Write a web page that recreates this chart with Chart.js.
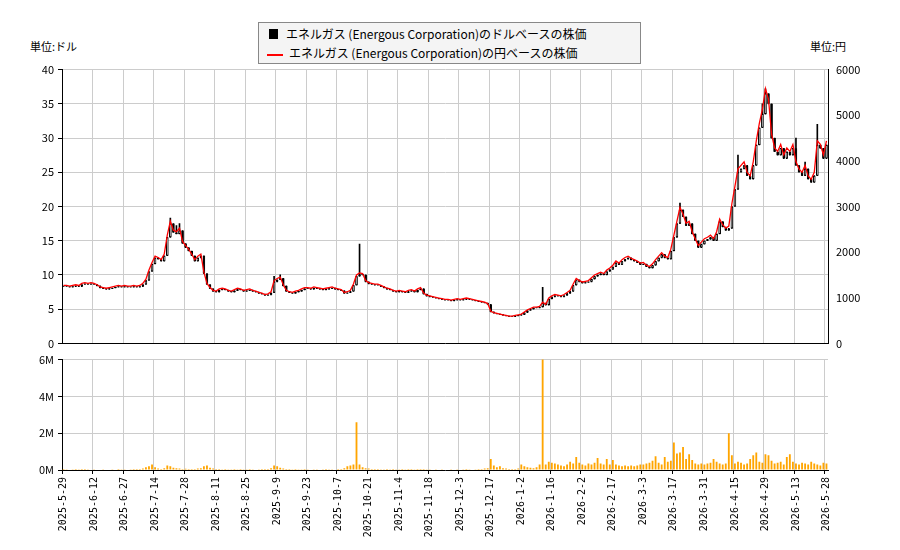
<!DOCTYPE html>
<html><head><meta charset="utf-8">
<script src="https://cdn.jsdelivr.net/npm/chart.js@4"></script>
<style>
body{margin:0;width:900px;height:550px;background:#fff;position:relative;font-family:"Noto Sans CJK JP","DejaVu Sans",sans-serif;overflow:hidden}
canvas{position:absolute;left:0}
.t{position:absolute;font-size:11px;color:#000}
#leg{position:absolute;left:258px;top:22px;width:381px;height:40px;border:1px solid #888;background:#f4f4f4;font-size:12px}
#leg div{position:absolute;left:8px;white-space:nowrap}
</style></head><body>
<div class="t" style="left:30px;top:38px">単位:ドル</div>
<div class="t" style="left:810px;top:38px">単位:円</div>
<div id="leg">
<div style="top:2px"><span style="display:inline-block;width:9px;height:10px;background:#000;margin:0 8px 0 2px"></span>エネルガス (Energous Corporation)のドルベースの株価</div>
<div style="top:21px"><span style="display:inline-block;width:16px;height:2px;background:#f00;vertical-align:middle;margin-right:6px"></span>エネルガス (Energous Corporation)の円ベースの株価</div>
</div>
<canvas id="c2" style="top:349px" width="900" height="201"></canvas>
<canvas id="c1" style="top:59px" width="900" height="295"></canvas>
<script>
const closes=[8.3,8.3,8.2,8.3,8.4,8.3,8.6,8.7,8.6,8.7,
8.6,8.4,8.1,8.0,7.9,8.0,8.1,8.2,8.3,8.2,
8.3,8.2,8.2,8.3,8.2,8.3,8.6,9.2,10.5,11.6,
12.5,12.3,12.0,12.8,15.5,17.5,16.2,16.0,16.5,14.6,
14.0,13.5,12.8,12.0,12.5,12.8,10.2,8.6,8.0,7.6,
7.5,7.8,7.9,7.8,7.6,7.5,7.7,7.9,7.8,7.6,
7.7,7.8,7.6,7.5,7.3,7.2,7.0,7.1,7.4,9.0,
9.3,9.5,8.4,7.6,7.4,7.3,7.5,7.6,7.8,8.0,
8.0,7.9,8.1,8.0,7.9,7.8,7.9,8.0,8.1,7.9,
7.8,7.7,7.3,7.4,7.6,8.5,9.8,10.1,10.0,9.0,
8.7,8.6,8.5,8.5,8.3,8.1,7.9,7.8,7.6,7.5,
7.6,7.5,7.4,7.6,7.7,7.5,7.8,8.0,7.2,6.9,
6.8,6.7,6.6,6.5,6.4,6.3,6.3,6.2,6.3,6.4,
6.3,6.4,6.5,6.4,6.3,6.2,6.1,6.0,5.9,5.7,
4.6,4.4,4.3,4.2,4.1,4.0,3.9,3.9,4.0,4.1,
4.2,4.5,4.8,5.0,5.2,5.2,5.3,5.9,5.6,6.5,
6.8,7.0,6.9,6.8,7.0,7.3,7.6,8.5,9.3,9.0,
8.8,8.9,9.0,9.4,9.8,10.0,10.2,10.0,10.5,10.8,
11.2,11.8,11.5,12.0,12.3,12.5,12.2,12.0,11.8,11.5,
11.6,11.2,11.0,11.4,12.0,12.5,13.0,12.5,12.3,13.5,
15.5,17.5,19.5,18.5,17.2,17.5,16.0,15.0,14.0,14.5,
15.0,15.2,15.5,15.0,16.0,17.8,17.0,16.5,16.8,20.0,
22.5,25.0,25.5,26.0,24.5,24.0,26.0,29.0,31.5,33.5,
36.5,35.0,30.0,28.0,27.5,28.5,27.0,28.0,27.5,28.5,
26.0,25.0,24.5,25.5,24.0,23.5,24.5,29.0,28.5,27.0,29.0];
const spikes={35:18.3,37:17.2,38:17.5,69:9.8,71:10.0,97:14.5,157:8.2,202:20.5,221:27.5,229:35,230:37.2,233:30,240:30,243:26.5,245:21.5,247:32};
const volumesM=[.05,.04,.03,.04,.05,.04,.06,.05,.04,.03,
.04,.03,.03,.04,.03,.03,.04,.03,.05,.04,
.04,.03,.04,.05,.06,.05,.08,.15,.2,.3,
.15,.08,.06,.1,.25,.2,.12,.1,.08,.06,
.07,.05,.05,.06,.08,.1,.2,.25,.12,.08,
.06,.05,.04,.05,.04,.04,.05,.04,.05,.04,
.04,.05,.04,.03,.04,.05,.06,.05,.1,.25,
.2,.12,.08,.06,.05,.04,.05,.04,.04,.05,
.04,.03,.04,.04,.03,.04,.05,.04,.04,.03,
.05,.06,.1,.2,.25,.3,2.6,.3,.15,.1,
.08,.06,.05,.05,.04,.04,.05,.04,.05,.04,
.04,.05,.04,.06,.05,.04,.06,.05,.05,.04,
.04,.03,.04,.03,.04,.03,.03,.04,.03,.04,
.03,.04,.05,.04,.03,.04,.05,.06,.08,.1,
.6,.25,.15,.2,.1,.08,.06,.05,.06,.08,
.3,.2,.15,.12,.1,.15,.3,6.5,.3,.45,
.4,.35,.3,.25,.2,.3,.45,.35,.7,.4,
.3,.25,.35,.3,.4,.65,.35,.3,.6,.3,
.55,.3,.25,.2,.25,.2,.25,.2,.25,.3,
.3,.35,.4,.5,.75,.4,.3,.7,.45,.5,
1.5,.9,.95,1.25,.6,.85,.55,.35,.3,.35,
.3,.35,.4,.6,.45,.35,.3,.35,2.0,.8,
.35,.45,.4,.3,.35,.6,.8,.95,.45,.4,
.85,.8,.5,.35,.4,.45,.3,.7,.85,.45,
.35,.3,.4,.35,.3,.45,.35,.3,.25,.4,.35];
const yenRate=153;
const holidays=["2025-06-19","2025-07-04","2025-09-01","2025-11-27","2025-12-25","2026-01-01","2026-01-19","2026-02-16","2026-04-03","2026-05-25"];
const labels=[];
for(let d=new Date(Date.UTC(2025,4,29));labels.length<closes.length;d.setUTCDate(d.getUTCDate()+1)){
  const wd=d.getUTCDay(); if(wd===0||wd===6)continue;
  const iso=d.toISOString().slice(0,10); if(holidays.includes(iso))continue;
  labels.push(d.getUTCFullYear()+"-"+(d.getUTCMonth()+1)+"-"+d.getUTCDate());
}
const opens=closes.map((c,i)=>i?closes[i-1]:c);
const bodies=closes.map((c,i)=>[opens[i],c]);
const wicks=closes.map((c,i)=>{const lo=Math.min(opens[i],c),hi=Math.max(opens[i],c);return [lo,spikes[i]?Math.max(hi,spikes[i]):hi];});
const up=closes.map((c,i)=>c>=opens[i]);
const font={family:"Noto Sans CJK JP",size:11};
const grid={color:c=>c.index%10===0?'#cccccc':'rgba(0,0,0,0)',drawTicks:false};
const xTop={type:'category',grid:grid,ticks:{display:false,autoSkip:false},border:{color:'#000'},afterFit:s=>{s.height=0}};
Chart.defaults.animation=false;
Chart.defaults.font=font;Chart.defaults.color='#000';
new Chart(document.getElementById('c1'),{
 data:{labels:labels,datasets:[
  {type:'line',data:closes.map(c=>c*yenRate),yAxisID:'y2',borderColor:'#f00',borderWidth:1.3,pointRadius:0,tension:0,order:0},
  {type:'bar',data:wicks,backgroundColor:'#000',barThickness:1,grouped:false,order:2},
  {type:'bar',data:bodies,backgroundColor:up.map(u=>u?'#fff':'#000'),borderColor:'#000',borderWidth:1,borderSkipped:false,barPercentage:0.85,categoryPercentage:1,grouped:false,order:1,minBarLength:1}
 ]},
 options:{responsive:false,plugins:{legend:{display:false},tooltip:{enabled:false}},
  layout:{padding:{top:5,bottom:2}},
  scales:{x:xTop,
   y:{position:'left',min:0,max:40,ticks:{stepSize:5,padding:4},grid:{color:'#cccccc',drawTicks:true,tickLength:4,tickColor:'#000'},border:{color:'#000'},afterFit:s=>{s.width=62}},
   y2:{position:'right',min:0,max:6000,ticks:{stepSize:1000,padding:4,callback:v=>String(v)},grid:{display:false,tickLength:4},border:{color:'#000'},afterFit:s=>{s.width=72}}}}
});
new Chart(document.getElementById('c2'),{
 type:'bar',
 data:{labels:labels,datasets:[{data:volumesM,backgroundColor:'#ffa500',barPercentage:0.6,categoryPercentage:1}]},
 options:{responsive:false,plugins:{legend:{display:false},tooltip:{enabled:false}},
  layout:{padding:{top:5,right:72}},
  scales:{x:{grid:{color:c=>c.index%10===0?'#cccccc':'rgba(0,0,0,0)',tickColor:c=>c.index%10===0?'#000':'rgba(0,0,0,0)',tickLength:4},border:{color:'#000'},
    ticks:{autoSkip:false,maxRotation:90,minRotation:90,font:{family:"DejaVu Sans Mono",size:10},callback:(v,i)=>i%10===0?labels[i]:''},afterFit:s=>{s.height=80}},
   y:{min:0,max:6,ticks:{stepSize:2,callback:v=>v+'M',padding:4},grid:{color:'#cccccc',tickLength:4,tickColor:'#000'},border:{color:'#000'},afterFit:s=>{s.width=62}}}}
});
</script></body></html>
